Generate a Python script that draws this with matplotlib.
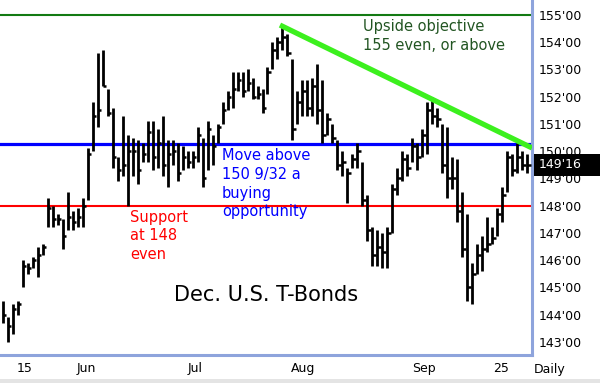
import numpy as np
import matplotlib
matplotlib.use("Agg")
import matplotlib.pyplot as plt
import matplotlib.transforms as mtransforms
from matplotlib.patches import Rectangle

# daily bars, Dec. U.S. T-Bonds (high / low / close)
highs = [144.5, 143.9, 144.4, 144.5, 146.0, 145.9, 146.1, 146.5, 146.6, 148.3,
         148.0, 147.7, 147.5, 148.5, 147.8, 147.9, 148.3, 150.1, 151.8, 153.6,
         153.7, 152.3, 151.6, 149.8, 151.3, 150.6, 150.5, 150.4, 150.3, 151.1,
         151.1, 150.8, 151.3, 150.4, 150.4, 150.3, 150.2, 150.0, 150.0, 150.9,
         150.5, 151.1, 150.6, 151.0, 151.8, 152.2, 152.9, 152.9, 152.9, 153.0,
         152.7, 152.4, 152.3, 153.1, 154.0, 154.2, 154.6, 154.3, 153.4, 152.2,
         152.6, 152.6, 152.7, 153.2, 152.6, 151.4, 151.0, 150.4, 150.0, 149.4,
         149.9, 150.3, 149.6, 148.4, 147.2, 147.1, 147.0, 147.2, 148.8, 149.4,
         150.0, 149.9, 150.5, 150.3, 150.8, 151.8, 152.0, 151.6, 151.0, 150.9,
         149.8, 149.7, 148.5, 147.7, 145.9, 146.6, 146.9, 147.6, 147.2, 147.9,
         148.7, 150.0, 149.9, 150.3, 150.0, 149.9]
lows = [143.7, 143.0, 143.3, 144.0, 145.0, 145.5, 145.7, 145.4, 146.2, 147.2,
        147.2, 147.3, 146.4, 147.1, 147.1, 147.2, 147.2, 148.2, 150.0, 150.9,
        152.4, 151.3, 149.4, 148.9, 149.1, 148.0, 149.1, 148.8, 149.6, 149.6,
        149.3, 149.4, 149.1, 148.7, 149.5, 148.9, 149.3, 149.4, 149.4, 149.6,
        148.7, 149.3, 149.5, 150.3, 151.0, 151.5, 151.6, 152.2, 152.0, 152.2,
        151.9, 151.9, 151.4, 152.1, 153.0, 153.4, 153.7, 153.5, 150.4, 151.0,
        151.3, 151.3, 151.3, 151.0, 150.3, 150.6, 150.3, 149.3, 149.1, 148.1,
        149.4, 149.4, 148.0, 146.7, 145.8, 145.8, 145.7, 145.7, 147.0, 148.4,
        148.9, 149.1, 149.6, 149.3, 149.8, 149.9, 151.0, 150.9, 149.2, 148.3,
        148.6, 147.4, 146.1, 144.5, 144.4, 145.5, 145.6, 146.3, 146.6, 146.9,
        147.4, 148.5, 149.1, 149.2, 149.3, 149.2]
closes = [144.0, 143.6, 144.2, 144.4, 145.8, 145.7, 146.0, 146.2, 146.5, 147.9,
          147.5, 147.5, 146.9, 147.6, 147.4, 147.6, 148.0, 149.9, 151.3, 151.5,
          152.4, 151.4, 149.8, 149.3, 149.5, 150.0, 150.0, 149.3, 149.9, 150.7,
          149.8, 150.3, 149.5, 149.9, 150.0, 149.2, 149.8, 149.6, 149.8, 150.6,
          149.0, 150.8, 150.2, 150.9, 151.5, 152.0, 152.3, 152.6, 152.2, 152.5,
          152.0, 152.1, 151.6, 152.9, 153.7, 154.0, 154.2, 153.6, 150.8, 151.8,
          152.2, 151.6, 152.4, 151.5, 150.6, 151.2, 150.5, 149.5, 149.6, 149.2,
          149.7, 150.0, 148.2, 147.1, 146.2, 146.5, 146.3, 147.0, 148.6, 149.0,
          149.7, 149.4, 150.2, 149.8, 150.6, 151.5, 151.3, 151.2, 149.5, 149.0,
          149.0, 147.8, 146.4, 145.0, 145.5, 146.2, 146.4, 146.6, 146.8, 147.7,
          148.4, 149.8, 149.3, 149.8, 149.5, 149.5]

# tick labels
x_tick_pos = [4.4, 16.6, 38.5, 60.1, 84.4, 99.8]
x_tick_labels = ["15", "Jun", "Jul", "Aug", "Sep", "25"]
y_ticks = list(range(143, 156))
last_label = "149'16"

# key levels
objective = 155.0
breakout = 150 + 9 / 32
support = 148.0
trend_x = [55.5, 106.0]
trend_y = [154.63, 150.12]

plt.rcParams['font.family'] = ['DejaVu Sans']

fig = plt.figure(figsize=(6.0, 3.83), dpi=100)
ax = fig.add_axes([0.0, 1 - 355 / 383, 532 / 600, 355 / 383])

idx = np.arange(len(highs))
# 价格柱: 高低竖线 + 收盘右侧短横
ax.vlines(idx, lows, highs, color='black', lw=2.0, zorder=3)
ax.hlines(closes, idx, idx + 0.7, color='black', lw=1.8, zorder=3)

# 水平线
ax.axhline(objective, color='#137a13', lw=1.5, zorder=2)
ax.axhline(breakout, color='#0000ff', lw=2.3, zorder=2)
ax.axhline(support, color='#ff0000', lw=1.5, zorder=2)
# 下降趋势线
ax.plot(trend_x, trend_y, color='#3cf01e', lw=3.8, solid_capstyle='butt', zorder=4)

ax.set_xlim(-0.6, 106.0)
ax.set_ylim(142.52, 155.55)

ax.yaxis.tick_right()
ax.set_yticks(y_ticks)
ax.set_yticklabels([f"{v}'00" for v in y_ticks])
ax.set_xticks(x_tick_pos)
ax.set_xticklabels(x_tick_labels)
ax.tick_params(axis='both', length=0, labelsize=9, colors='black')
ax.tick_params(axis='y', pad=5)
ax.tick_params(axis='x', pad=5)

for side in ['top', 'left']:
    ax.spines[side].set_visible(False)
for side in ['right', 'bottom']:
    ax.spines[side].set_color('#8ea4dc')
    ax.spines[side].set_linewidth(2.2)

# 最新价格标签
trans = mtransforms.blended_transform_factory(ax.transAxes, ax.transData)
ax.add_patch(Rectangle((1.003, closes[-1] - 0.40), 0.13, 0.80, transform=trans,
                       facecolor='black', edgecolor='none', clip_on=False, zorder=5))
ax.text(1.012, closes[-1], last_label, transform=trans, color='white',
        fontsize=9, va='center', ha='left', zorder=6, clip_on=False)

# 注释文字
ax.text(72.1, 154.85, "Upside objective\n155 even, or above", color='#225522',
        fontsize=10.5, va='top', ha='left', linespacing=1.35)
ax.text(43.9, 150.1, "Move above\n150 9/32 a\nbuying\nopportunity", color='#0000ff',
        fontsize=10.5, va='top', ha='left', linespacing=1.3)
ax.text(25.5, 147.85, "Support\nat 148\neven", color='#ff0000',
        fontsize=10.5, va='top', ha='left', linespacing=1.3)
ax.text(34.3, 144.72, "Dec. U.S. T-Bonds", color='black', fontsize=15,
        va='center', ha='left')

fig.text(550 / 600, 1 - 369 / 383, "Daily", fontsize=9, ha='center', va='center')
fig.patches.append(Rectangle((0, 0), 1, 4 / 383, transform=fig.transFigure,
                             facecolor='#e4e4e4', edgecolor='none'))

fig.savefig("out.png", dpi=100)
